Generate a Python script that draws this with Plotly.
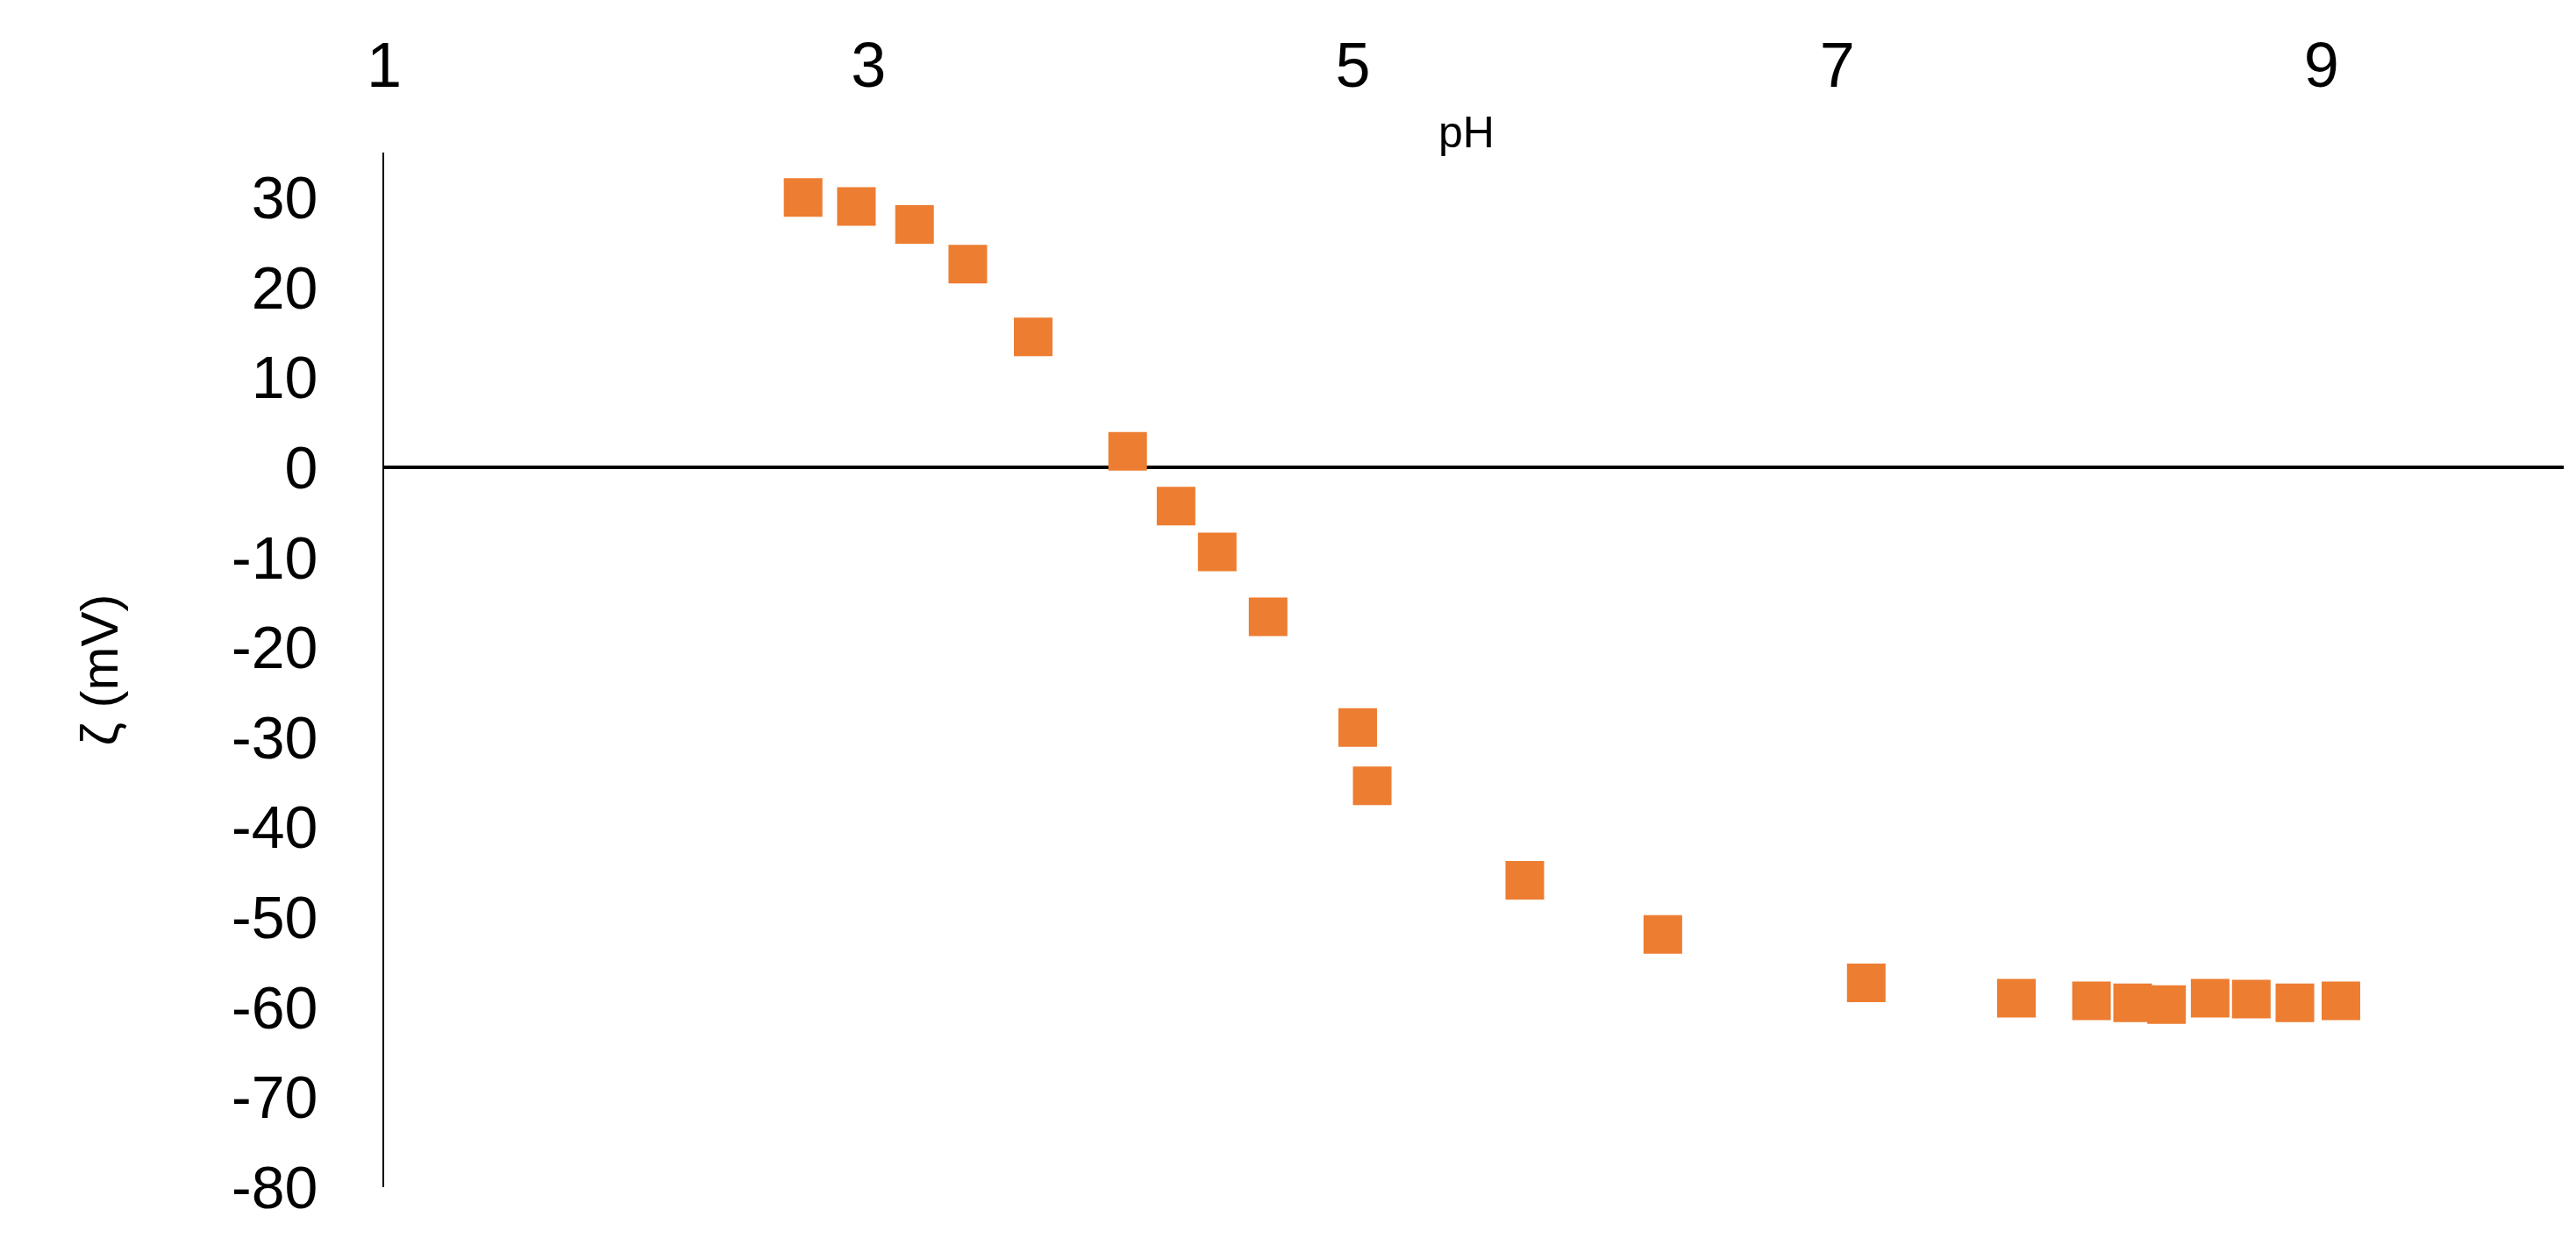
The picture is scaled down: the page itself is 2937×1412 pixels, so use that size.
import plotly.graph_objects as go

ph = [2.73, 2.95, 3.19, 3.41, 3.68, 4.07, 4.27, 4.44, 4.65, 5.02, 5.08, 5.71,
      6.28, 7.12, 7.74, 8.05, 8.22, 8.36, 8.54, 8.71, 8.89, 9.08]
zeta = [30, 29, 27, 22.6, 14.5, 1.8, -4.3, -9.4, -16.6, -28.9, -35.4, -45.9,
        -51.9, -57.3, -59.0, -59.3, -59.5, -59.7, -59.0, -59.1, -59.5, -59.3]
x_ticks = [1, 3, 5, 7, 9]
y_ticks = list(range(-80, 31, 10))

fig = go.Figure()
fig.add_trace(go.Scatter(
    x=ph, y=zeta, mode='markers',
    marker=dict(symbol='square', size=44, color='#ED7D31'),
    showlegend=False
))

fig.update_layout(
    width=2937, height=1412,
    paper_bgcolor='white', plot_bgcolor='white',
    margin=dict(l=430, r=22, t=166, b=66),
    font=dict(family='Liberation Sans Narrow, Liberation Sans, Arial', color='black'),
    xaxis=dict(
        range=[1, 10], side='top', tickvals=x_ticks, ticks='',
        showgrid=False, showline=False, zeroline=False,
        tickfont=dict(size=72), ticklabelstandoff=60
    ),
    yaxis=dict(
        range=[-80, 35], tickvals=y_ticks, ticktext=[str(v) for v in y_ticks], ticks='',
        showgrid=False, showline=True, linecolor='black', linewidth=2,
        zeroline=True, zerolinecolor='black', zerolinewidth=4,
        tickfont=dict(size=68), ticklabelstandoff=60,
        title=dict(text='ζ (mV)', font=dict(size=60, family='Liberation Sans'), standoff=110)
    ),
    annotations=[dict(
        text='pH', x=5.47, y=1.045, xref='x', yref='paper',
        showarrow=False, font=dict(size=50, family='Liberation Sans')
    )]
)

fig.write_html("out.html")
